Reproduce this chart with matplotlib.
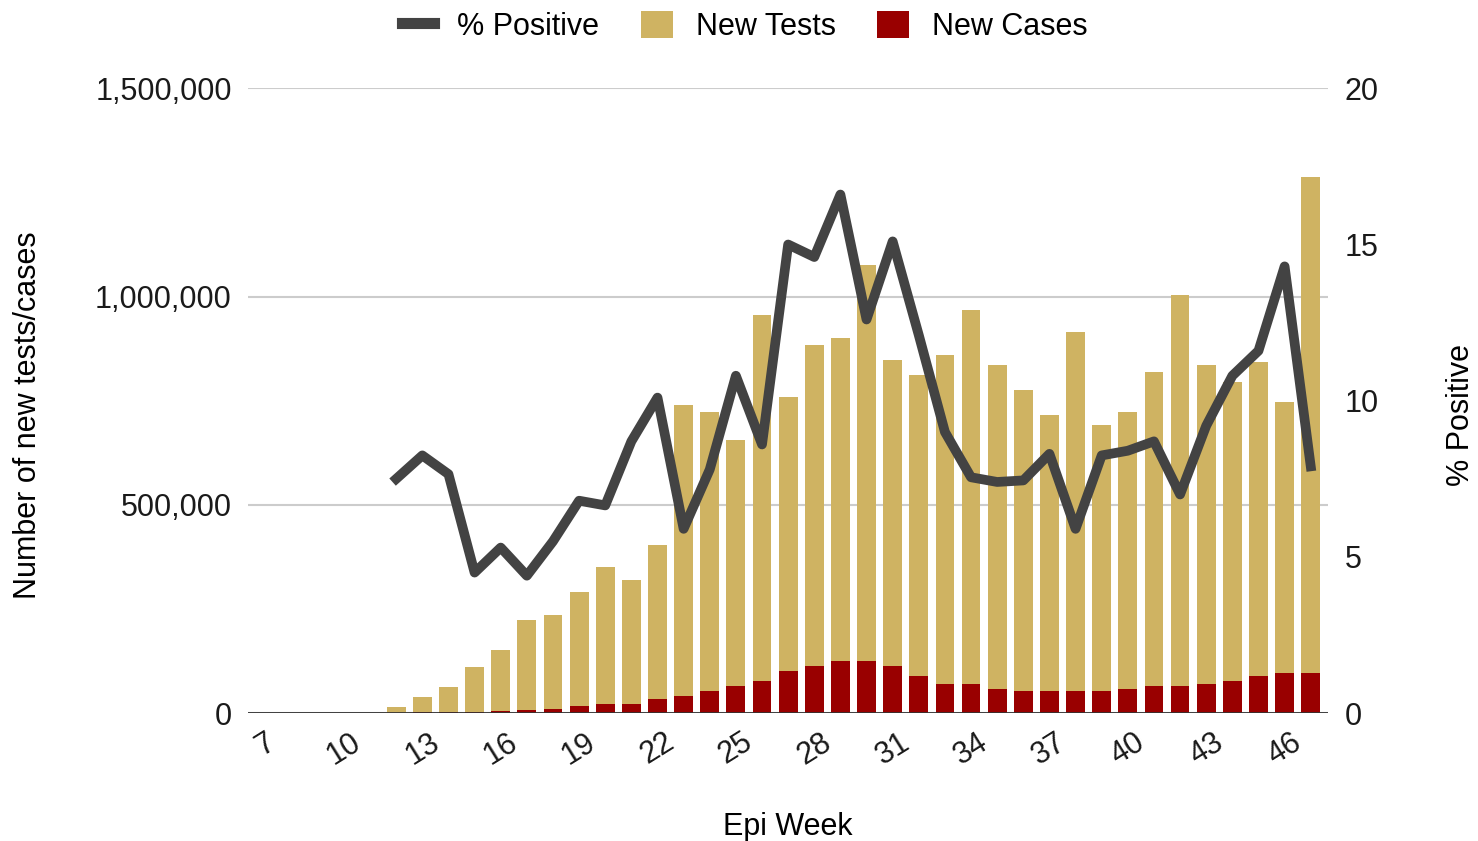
import matplotlib
matplotlib.use('Agg')
import matplotlib.pyplot as plt
from matplotlib.lines import Line2D
from matplotlib.patches import Patch

plt.rcParams['font.family'] = ['Liberation Sans', 'DejaVu Sans']

# Semanas epidemiologicas 7..47
semanas = list(range(7, 48))
testes = [0, 0, 0, 0, 0,
          15000, 38000, 62000, 110000, 151000, 223000, 235000, 290000, 350000, 319000,
          403000, 739000, 722000, 655000, 955000, 758000, 883000, 900000, 1075000, 847000,
          811000, 859000, 967000, 835000, 775000, 715000, 914000, 691000, 722000, 818000,
          1003000, 835000, 794000, 842000, 746000, 1286000]
casos = [0, 0, 0, 0, 0,
         1000, 2000, 3000, 4000, 5000, 8000, 10000, 17000, 22000, 22000,
         34000, 41000, 53000, 65000, 77000, 101000, 113000, 125000, 125000, 113000,
         89000, 70000, 70000, 58000, 53000, 53000, 53000, 53000, 58000, 65000,
         65000, 70000, 77000, 89000, 96000, 96000]
semanas_pos = list(range(12, 48))
positivos = [7.5, 8.25, 7.65, 4.5, 5.3, 4.4, 5.5, 6.8, 6.65, 8.7,
             10.1, 5.9, 7.8, 10.8, 8.6, 15.0, 14.6, 16.6, 12.6, 15.1,
             12.1, 9.0, 7.55, 7.4, 7.45, 8.3, 5.9, 8.25, 8.4, 8.7,
             7.0, 9.2, 10.8, 11.6, 14.3, 7.9]

cor_testes = '#cfb362'
cor_casos = '#990000'
cor_linha = '#434343'
tam = 22

fig = plt.figure(figsize=(14.78, 8.41), dpi=100)
ax = fig.add_axes([0.168, 0.152, 0.7305, 0.743])
ax2 = ax.twinx()

ax.bar(semanas, testes, width=0.72, color=cor_testes, zorder=2)
ax.bar(semanas, casos, width=0.72, color=cor_casos, zorder=3)
ax2.plot(semanas_pos, positivos, color=cor_linha, linewidth=7, zorder=4)

ax.set_xlim(6.34, 47.66)
ax.set_ylim(0, 1500000)
ax2.set_ylim(0, 20)
ax.set_yticks([0, 500000, 1000000, 1500000])
ax.set_yticklabels(['0', '500,000', '1,000,000', '1,500,000'])
ax2.set_yticks([0, 5, 10, 15, 20])
ax.set_xticks(list(range(7, 48, 3)))
ax.set_xticklabels([str(s) for s in range(7, 48, 3)], rotation=32, ha='center')

ax.grid(axis='y', color='#cccccc', linewidth=1.5, zorder=0)
ax.set_axisbelow(True)
for a in (ax, ax2):
    for lado in ['top', 'right', 'left', 'bottom']:
        a.spines[lado].set_visible(False)
    a.tick_params(length=0, labelsize=tam, colors='#1a1a1a')
ax.axhline(0, color='#333333', linewidth=2, zorder=5)
ax.tick_params(axis='y', pad=12)
ax.tick_params(axis='x', pad=10)
ax2.tick_params(axis='y', pad=12)

ax.set_xlabel('Epi Week', fontsize=tam, labelpad=30)
# rotulos dos eixos y posicionados na figura
fig.text(28 / 1478, 1 - 415 / 841, 'Number of new tests/cases', rotation=90,
         ha='center', va='center', fontsize=tam)
fig.text(1461 / 1478, 1 - 415 / 841, '% Positive', rotation=90,
         ha='center', va='center', fontsize=tam)

itens = [Line2D([0], [0], color=cor_linha, linewidth=8),
         Patch(facecolor=cor_testes), Patch(facecolor=cor_casos)]
fig.legend(itens, ['% Positive', 'New Tests', 'New Cases'], loc='upper center',
           bbox_to_anchor=(0.504, 1.02), ncol=3, frameon=False, fontsize=tam,
           handlelength=1.05, handleheight=1.0, columnspacing=1.35, handletextpad=0.75)

fig.savefig('out.png', dpi=100, facecolor='white')
